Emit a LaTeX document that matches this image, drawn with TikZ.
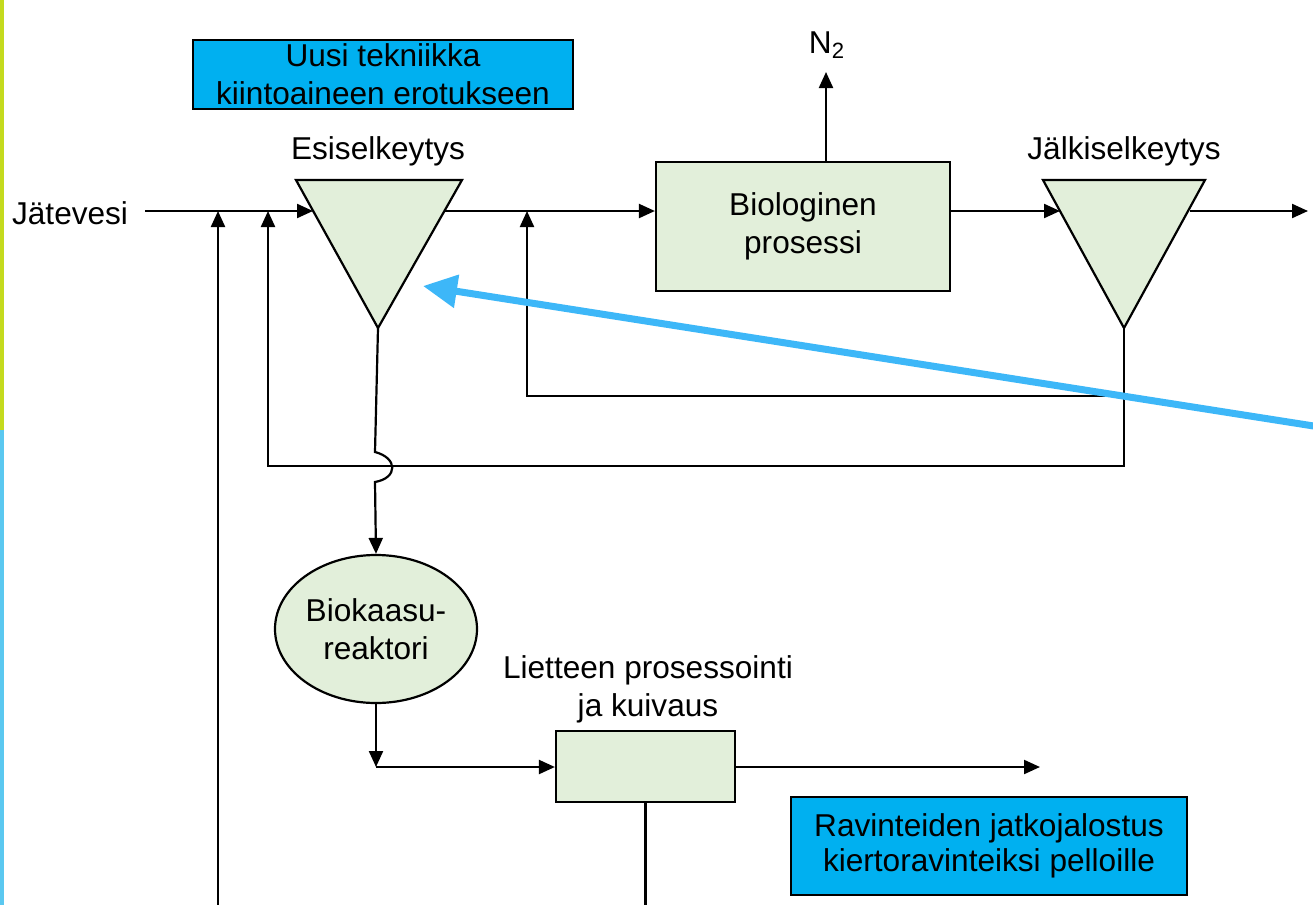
\documentclass[tikz,border=0pt]{standalone}
\usepackage{fontspec}
\setmainfont{Liberation Sans}
\usetikzlibrary{shapes.geometric,arrows.meta}
\definecolor{boxgreen}{RGB}{226,239,218}
\definecolor{cyanbox}{RGB}{0,176,240}
\definecolor{bluearrow}{RGB}{61,183,248}
\definecolor{bargreen}{RGB}{196,218,30}
\definecolor{barcyan}{RGB}{91,200,240}
\begin{document}
\begin{tikzpicture}[x=0.5pt,y=-0.5pt, line width=1.1pt, font=\fontsize{15.8}{19}\selectfont,
 conn/.style={-{Triangle[length=8pt,width=7pt]}},
 proc/.style={draw, fill=boxgreen, line width=1.1pt, align=center, inner sep=0},
 note/.style={draw, fill=cyanbox, line width=1.1pt, align=center, inner sep=0},
 lbl/.style={align=center, inner sep=0},
 tri/.style={draw, fill=boxgreen, line width=1.1pt, line join=miter}]
\useasboundingbox (0,0) rectangle (1313,905);
\fill[white] (0,0) rectangle (1313,905);
\fill[bargreen] (0,0) rectangle (4,430);
\fill[barcyan] (0,430) rectangle (4,905);

% settlers
\coordinate (t1a) at (296,180);
\coordinate (t1b) at (462,180);
\coordinate (t1c) at (378,328);
\coordinate (t1in) at (313,211);
\coordinate (t1out) at (445,211);
\draw[tri] (t1a) -- (t1b) -- (t1c) -- cycle;
\coordinate (t2a) at (1043,180);
\coordinate (t2b) at (1205,180);
\coordinate (t2c) at (1124,328);
\coordinate (t2in) at (1060,211);
\coordinate (t2out) at (1190,211);
\draw[tri] (t2a) -- (t2b) -- (t2c) -- cycle;

% nodes
\node[note, minimum width=190pt, minimum height=34.5pt] (newtech) at (383,74.5) {Uusi tekniikka\\kiintoaineen erotukseen};
\node[proc, minimum width=147pt, minimum height=64.5pt] (bio) at (803,226.5) {Biologinen\\prosessi};
\node[proc, ellipse, minimum width=101pt, minimum height=74pt] (reactor) at (376,629) {Biokaasu-\\reaktori};
\node[proc, minimum width=89.5pt, minimum height=35.5pt] (sludge) at (645.5,766.5) {};
\node[note, minimum width=198pt, minimum height=49pt, font=\fontsize{15.8}{17.5}\selectfont] (nutr) at (989,846) {Ravinteiden jatkojalostus\\kiertoravinteiksi pelloille};

% labels
\node[lbl, anchor=base] (esi) at (378,159) {Esiselkeytys};
\node[lbl, anchor=base] (jalki) at (1124,159) {Jälkiselkeytys};
\node[lbl] (sludgelbl) at (648,689) {Lietteen prosessointi\\ja kuivaus};
\node[lbl, anchor=base] (n2) at (827,53) {N\textsubscript{2}};
\node[lbl, anchor=west] (jv) at (11,213) {Jätevesi};

% coordinates
\coordinate (jvout) at (145,211);
\coordinate (j1) at (218,211);
\coordinate (j2) at (268,211);
\coordinate (j3) at (527,211);
\coordinate (bot1) at (218,905);
\coordinate (out1) at (1308,211);
\coordinate (out2) at (1040,767);
\coordinate (n2foot) at (826,162);
\coordinate (n2tip) at (826,72);
\coordinate (c1) at (376,767);
\coordinate (bstart) at (1320,427);
\coordinate (bend) at (423,286);

% connectors
\draw[conn] (jvout) -- (t1in);
\draw[conn] (bot1) -- (j1);
\draw[conn] (t1out) -- (t1out -| bio.west);
\draw[conn] (n2foot) -- (n2tip);
\draw[conn] (bio.east |- t2in) -- (t2in);
\draw[conn] (t2out) -- (out1);
\draw[conn] (t2c) -- (1124,466) -- (268,466) -- (j2);
\draw[conn] (1124,396) -- (527,396) -- (j3);
\draw[conn] (t1c) -- (375,452) .. controls (398,458) and (398,478) .. (375,482) -- (reactor.north);
\draw[conn] (reactor.south) -- (c1);
\draw[conn] (c1) -- (c1 -| sludge.west);
\draw[conn] (sludge.east |- c1) -- (out2);
\draw (sludge.south) -- (sludge.south |- bot1);

\draw[bluearrow, line width=3.5pt, -{Triangle[length=17pt,width=16pt]}] (bstart) -- (bend);
\end{tikzpicture}
\end{document}
